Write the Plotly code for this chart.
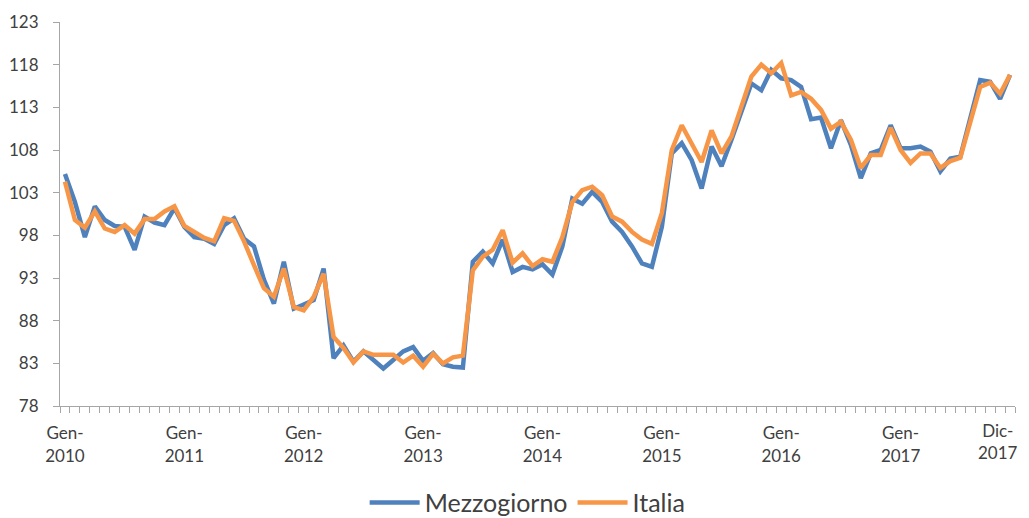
import plotly.graph_objects as go

# Monthly index, Jan 2010 - Dec 2017 (96 months)
months = list(range(96))

mezzogiorno = [
    105.2, 101.9, 97.8, 101.4, 99.8, 99.1, 99.0, 96.3, 100.2, 99.5, 99.2, 101.2,
    99.0, 97.8, 97.6, 97.0, 99.2, 100.0, 97.6, 96.7, 92.8, 90.0, 94.9, 89.4,
    89.9, 90.4, 94.1, 83.6, 85.1, 83.2, 84.4, 83.4, 82.4, 83.4, 84.4, 84.9,
    83.3, 84.2, 82.9, 82.6, 82.5, 94.9, 96.1, 94.7, 97.5, 93.7, 94.3, 94.0,
    94.6, 93.4, 96.7, 102.3, 101.7, 103.1, 101.9, 99.6, 98.4, 96.7, 94.7, 94.3,
    99.0, 107.6, 108.8, 106.8, 103.5, 108.4, 106.1, 109.2, 112.5, 115.8, 115.0, 117.4,
    116.4, 116.2, 115.4, 111.6, 111.8, 108.2, 111.5, 108.6, 104.7, 107.6, 108.0, 110.9,
    108.2, 108.2, 108.4, 107.8, 105.5, 107.0, 107.2, 111.5, 116.2, 116.0, 114.0, 116.8,
]

italia = [
    104.3, 99.8, 98.9, 100.8, 98.8, 98.4, 99.2, 98.2, 99.9, 99.9, 100.8, 101.4,
    99.1, 98.4, 97.7, 97.3, 100.0, 99.7, 97.3, 94.5, 91.8, 90.8, 94.1, 89.6,
    89.2, 90.8, 93.5, 86.1, 84.8, 83.1, 84.4, 84.0, 84.0, 84.0, 83.1, 83.9,
    82.6, 84.1, 83.0, 83.7, 83.9, 93.9, 95.5, 96.3, 98.6, 94.8, 95.9, 94.4,
    95.2, 94.9, 97.8, 101.9, 103.3, 103.7, 102.7, 100.2, 99.6, 98.4, 97.5, 97.0,
    100.6, 108.0, 110.9, 108.8, 106.6, 110.3, 107.6, 109.6, 113.1, 116.6, 118.0, 117.0,
    118.2, 114.4, 114.8, 114.0, 112.7, 110.5, 111.3, 109.2, 105.9, 107.4, 107.4, 110.6,
    108.0, 106.5, 107.6, 107.6, 105.9, 106.7, 107.1, 111.1, 115.4, 115.9, 114.6, 116.8,
]

tick_pos = [0, 12, 24, 36, 48, 60, 72, 84, 95]
tick_text = ["Gen-<br>2010", "Gen-<br>2011", "Gen-<br>2012", "Gen-<br>2013", "Gen-<br>2014",
             "Gen-<br>2015", "Gen-<br>2016", "Gen-<br>2017", "Dic-<br>2017"]
y_ticks = [78, 83, 88, 93, 98, 103, 108, 113, 118, 123]

fig = go.Figure()
fig.add_trace(go.Scatter(x=months, y=mezzogiorno, mode="lines", name="Mezzogiorno",
                         line=dict(color="#4F81BD", width=4.5)))
fig.add_trace(go.Scatter(x=months, y=italia, mode="lines", name="Italia",
                         line=dict(color="#F79646", width=4.5)))

# last label gets clipped at the right edge, so draw it as a right-anchored annotation
last_label = tick_text[-1]
tick_text_axis = tick_text[:-1] + [""]
fig.add_annotation(x=tick_pos[-1], xref="x", y=0, yref="paper", text=last_label,
                   showarrow=False, xanchor="right", yanchor="top", align="center",
                   xshift=10, yshift=-12, font=dict(size=17, color="#404040"))

# the page body adds an 8px offset, so the figure is drawn 8px shorter
axis_grey = "#A6A6A6"
fig.update_layout(
    width=1029, height=510,
    margin=dict(l=52, r=22, t=14, b=112),
    paper_bgcolor="white", plot_bgcolor="white",
    font=dict(family="Lato, Noto Sans, sans-serif", color="#404040", size=17),
    showlegend=True,
    legend=dict(orientation="h", x=0.505, xanchor="center", xref="container",
                y=0.03, yanchor="middle", yref="container",
                font=dict(size=25), itemwidth=50, traceorder="normal"),
    xaxis=dict(
        range=[-0.5, 95.5], tickmode="array", tickvals=tick_pos, ticktext=tick_text_axis,
        ticks="", showgrid=False, zeroline=False, showline=True, linecolor=axis_grey,
        linewidth=1, tickangle=0, automargin=False, ticklabelstandoff=12,
        ticklabeloverflow="allow",
        minor=dict(tickmode="linear", tick0=-0.5, dtick=1, ticks="outside",
                   ticklen=6, tickcolor=axis_grey, showgrid=False),
    ),
    yaxis=dict(
        range=[78, 123], tickmode="array", tickvals=y_ticks, ticks="outside",
        ticklen=6, tickcolor=axis_grey, showgrid=False, zeroline=False,
        showline=True, linecolor=axis_grey, linewidth=1, ticklabelstandoff=11,
        automargin=False, ticklabeloverflow="allow",
    ),
)

fig.write_html("out.html")
